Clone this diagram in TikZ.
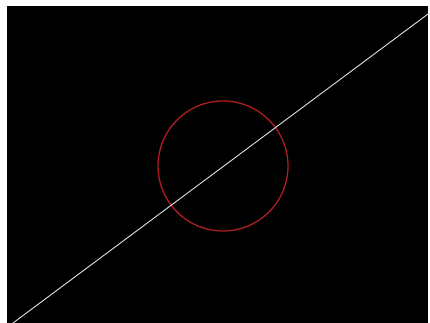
\documentclass[tikz,border=0pt]{standalone}
\definecolor{bgblack}{RGB}{0,0,0}
\definecolor{circred}{RGB}{175,30,35}
\definecolor{linegrey}{RGB}{225,225,225}
\begin{document}
\begin{tikzpicture}[x=1pt,y=-1pt]
\useasboundingbox (0,0) rectangle (430,323);
\fill[white] (0,0) rectangle (430,323);
\fill[bgblack] (7,6) rectangle (428,323);
\coordinate (c) at (223,166);
\draw[circred, line width=1.3pt] (c) circle[radius=65];
\coordinate (lstart) at (13,323);
\coordinate (lend) at (428,14);
\draw[linegrey, line width=0.9pt] (lstart) -- (lend);
\end{tikzpicture}
\end{document}
